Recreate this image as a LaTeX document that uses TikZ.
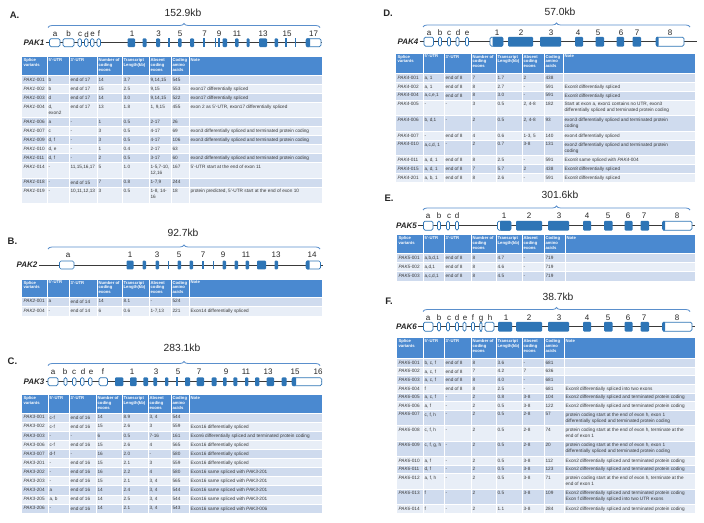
\documentclass[tikz,border=0pt]{standalone}
\usepackage{fontspec}
\setmainfont{Liberation Sans}
\usetikzlibrary{decorations.pathreplacing}
\definecolor{hdr}{HTML}{4A89D0}
\definecolor{rowD}{HTML}{CFDBEE}
\definecolor{rowL}{HTML}{E8EEF7}
\definecolor{exb}{HTML}{2E75B6}
\definecolor{brc}{HTML}{5A8FCC}
\definecolor{txt}{HTML}{3A3A3A}
\definecolor{intr}{HTML}{3A3A3A}

\newcount\cellno
\newcommand\cellnode[3]{\if\relax\detokenize{#3}\relax\else\global\advance\cellno by 1 \node[cell] (cell\the\cellno) at (#1+1.4,#2+2.4) {\vphantom{Ag}#3};\fi}
\newcommand\hcell[3]{\global\advance\cellno by 1 \node[hcell] (cell\the\cellno) at (#1+1.4,#2+1.4) {\vphantom{Ag}#3};}
\newcommand\setcols[9]{\def\cA{#1}\def\cB{#2}\def\cC{#3}\def\cD{#4}\def\cE{#5}\def\cF{#6}\def\cG{#7}\def\cH{#8}\def\cI{#9}}
\newcommand\tgrid[2]{\foreach \xx in {\cB,\cC,\cD,\cE,\cF,\cG,\cH}{\draw[tsep] (\xx,#1) -- (\xx,#2);}}
\newcommand\thead[2]{\fill[hdr] (\cA,#1) rectangle (\cI,#2); \tgrid{#1}{#2}
 \hcell{\cA}{#1}{Splice\\variants}\hcell{\cB}{#1}{5'-UTR}\hcell{\cC}{#1}{3'-UTR}
 \hcell{\cD}{#1}{Number of\\coding\\exons}\hcell{\cE}{#1}{Transcript\\Length(kb)}
 \hcell{\cF}{#1}{Absent\\coding\\exons}\hcell{\cG}{#1}{Coding\\amino\\acids}\hcell{\cH}{#1}{Note}}
\newcommand\trow[3]{\fill[#3] (\cA,#1) rectangle (\cI,#2); \draw[tsep] (\cA,#1) -- (\cI,#1); \tgrid{#1}{#2}\def\rt{#1}}
\newcommand\tc[8]{\cellnode{\cA}{\rt}{#1}\cellnode{\cB}{\rt}{#2}\cellnode{\cC}{\rt}{#3}\cellnode{\cD}{\rt}{#4}\cellnode{\cE}{\rt}{#5}\cellnode{\cF}{\rt}{#6}\cellnode{\cG}{\rt}{#7}\cellnode{\cH}{\rt}{#8}}
\newcommand\pv[2]{\textit{PAK#1}-#2}
\def\hh{4.3}
\newcommand\fx[3]{\fill[exb, rounded corners=1pt] (#1,#3-\hh) rectangle (#2,#3+\hh);}
\newcommand\ox[3]{\draw[exb, fill=white, line width=0.7pt, rounded corners=1.5pt] (#1,#3-\hh+0.3) rectangle (#2,#3+\hh-0.3);}
\newcommand\tx[2]{\fill[exb] (#1-0.75,#2-\hh) rectangle (#1+0.75,#2+\hh);}
\newcommand\lx[4]{\ox{#1}{#3}{#4}\fill[exb, rounded corners=0.8pt] (#1,#4-\hh) rectangle (#2,#4+\hh);}
\newcommand\ux[3]{\ox{#1}{#2}{#3}\fill[exb, rounded corners=1pt] (#1+2.5,#3-\hh) rectangle (#2,#3+\hh);}
\newcommand\el[3]{\global\advance\cellno by 1 \node[exlab] (cell\the\cellno) at (#1,#2) {#3};}

\begin{document}
\begin{tikzpicture}[x=1pt,y=-1pt,
 cell/.style={anchor=north west, inner sep=0pt, align=left, font=\fontsize{4.7}{5.9}\selectfont, text=txt},
 hcell/.style={anchor=north west, inner sep=0pt, align=left, font=\fontsize{4.2}{4.7}\selectfont\bfseries, text=white},
 tsep/.style={white, line width=0.7pt},
 exlab/.style={anchor=base, inner sep=0pt, font=\fontsize{8}{9}\selectfont, text=black!85},
 gname/.style={anchor=east, inner sep=0pt, font=\fontsize{8}{9}\selectfont\bfseries\itshape, text=black!85},
 plab/.style={inner sep=0pt, font=\fontsize{9.5}{10}\selectfont\bfseries, text=black!85},
 kb/.style={inner sep=0pt, font=\fontsize{10.3}{11}\selectfont, text=black!85},
 intron/.style={draw=intr, line width=0.7pt},
 gbrace/.style={draw=brc, line width=0.8pt, decorate, decoration={brace, amplitude=4pt}}]
\useasboundingbox (0,0) rectangle (704,522);
\fill[white] (0,0) rectangle (704,522);

% ================= A: PAK1 =================
\node[plab] (pA) at (14.5,15) {A.};
\node[kb] (kA) at (183,13) {152.9kb};
\coordinate (bAl) at (48,27.5); \coordinate (bAr) at (320,27.5);
\draw[gbrace] (bAl) -- (bAr);
\node[gname] (gA) at (44.5,42.7) {PAK1};
\coordinate (iAl) at (45.5,42.7); \coordinate (iAr) at (322,42.7);
\draw[intron] (iAl) -- (iAr);
\ox{49.5}{60}{42.7}\ox{63}{74}{42.7}\ox{78}{81.5}{42.7}\ox{84.5}{88}{42.7}\ox{90.5}{94}{42.7}\ox{97}{100.5}{42.7}
\fx{127.5}{135}{42.7}\fx{142.5}{146.5}{42.7}\fx{156}{160}{42.7}\tx{169}{42.7}\fx{178}{181.5}{42.7}\fx{190}{194}{42.7}
\tx{204}{42.7}\tx{215.5}{42.7}\tx{219}{42.7}\fx{222.5}{227}{42.7}\fx{235}{238.5}{42.7}\fx{246.5}{249.5}{42.7}
\fx{259}{267}{42.7}\fx{274.5}{278}{42.7}\tx{286}{42.7}\tx{295.5}{42.7}\lx{306}{310}{321}{42.7}
\el{55}{36.6}{a}\el{68.5}{36.6}{b}\el{80}{36.6}{c}\el{86.5}{37.4}{d}\el{92.5}{36.6}{e}\el{99}{36.6}{f}
\el{132}{36.6}{1}\el{158.5}{36.6}{3}\el{180}{36.6}{5}\el{204.5}{36.6}{7}\el{219}{36.6}{9}\el{237}{36.6}{11}
\el{263}{36.6}{13}\el{287}{36.6}{15}\el{313.5}{36.6}{17}
\setcols{22}{47}{69}{97}{122}{149}{171}{189}{322}
\thead{57}{75.5}
\trow{75.5}{84.5}{rowD}\tc{\pv{1}{001}}{b}{end of 17}{14}{3.7}{9,14,15}{545}{}
\trow{84.5}{93.3}{rowL}\tc{\pv{1}{002}}{b}{end of 17}{15}{2.5}{9,15}{553}{exon17 differentially spliced}
\trow{93.3}{102.2}{rowD}\tc{\pv{1}{003}}{d}{end of 17}{14}{3.0}{9,14,15}{522}{exon17 differentially spliced}
\trow{102.2}{117.8}{rowL}\tc{\pv{1}{004}}{d,\\exon2}{end of 17}{13}{1.8}{1, 9,15}{455}{exon 2 as 5'-UTR, exon17 differentially spliced}
\trow{117.8}{126.7}{rowD}\tc{\pv{1}{006}}{a}{-}{1}{0.5}{2-17}{26}{}
\trow{126.7}{135.6}{rowL}\tc{\pv{1}{007}}{c}{-}{3}{0.5}{4-17}{69}{exon3 differentially spliced and terminated protein coding}
\trow{135.6}{144.5}{rowD}\tc{\pv{1}{009}}{d, f}{-}{3}{0.5}{4-17}{106}{exon3 differentially spliced and terminated protein coding}
\trow{144.5}{153.4}{rowL}\tc{\pv{1}{010}}{d, e}{-}{1}{0.4}{2-17}{63}{}
\trow{153.4}{162.3}{rowD}\tc{\pv{1}{011}}{d, f}{-}{2}{0.5}{3-17}{60}{exon2 differentially spliced and terminated protein coding}
\trow{162.3}{178}{rowL}\tc{\pv{1}{014}}{-}{11,15,16,17}{5}{1.0}{1-5,7-10,\\12,16}{167}{5'-UTR start at the end of exon 11}
\trow{178}{186.9}{rowD}\tc{\pv{1}{018}}{-}{end of 15}{7}{0.8}{1-7,9}{244}{}
\trow{186.9}{202.5}{rowL}\tc{\pv{1}{019}}{-}{10,11,12,13}{3}{0.5}{1-8, 14-\\16}{18}{protein predicted, 5'-UTR start at the end of exon 10}

% ================= B: PAK2 =================
\node[plab] (pB) at (12.5,241.7) {B.};
\node[kb] (kB) at (183,233) {92.7kb};
\coordinate (bBl) at (48,249); \coordinate (bBr) at (320,249);
\draw[gbrace] (bBl) -- (bBr);
\node[gname] (gB) at (37.5,265) {PAK2};
\coordinate (iBl) at (39,265); \coordinate (iBr) at (323,265);
\draw[intron] (iBl) -- (iBr);
\ox{59.5}{74}{265}
\fx{126.5}{133.5}{265}\fx{142.5}{146}{265}\fx{155.5}{159}{265}\tx{168.5}{265}\fx{177.5}{181}{265}\fx{189.5}{193}{265}
\tx{203}{265}\tx{213.5}{265}\fx{222.5}{226}{265}\fx{234.5}{238}{265}\fx{245.5}{249}{265}\fx{257}{266}{265}
\fx{274.5}{278}{265}\lx{306}{309.5}{320.5}{265}
\el{68}{257.4}{a}\el{130}{257.4}{1}\el{157}{257.4}{3}\el{179}{257.4}{5}\el{203}{257.4}{7}\el{223}{257.4}{9}
\el{246}{257.4}{11}\el{276}{257.4}{13}\el{312}{257.4}{14}
\thead{279.5}{297}
\trow{297}{306.3}{rowD}\tc{\pv{2}{001}}{a}{end of 14}{14}{8.1}{-}{524}{}
\trow{306.3}{315.5}{rowL}\tc{\pv{2}{004}}{-}{end of 14}{6}{0.6}{1-7,13}{221}{Exon14 differentially spliced}

% ================= C: PAK3 =================
\node[plab] (pC) at (12.5,361.5) {C.};
\node[kb] (kC) at (182,348) {283.1kb};
\coordinate (bCl) at (48,365.5); \coordinate (bCr) at (320,365.5);
\draw[gbrace] (bCl) -- (bCr);
\node[gname] (gC) at (44.5,381.7) {PAK3};
\coordinate (iCl) at (45.5,381.7); \coordinate (iCr) at (322,381.7);
\draw[intron] (iCl) -- (iCr);
\ox{48}{58}{381.7}\ox{64}{67}{381.7}\ox{72.5}{76}{381.7}\ox{80.5}{84}{381.7}\ox{88.5}{92}{381.7}\ox{99}{107.5}{381.7}
\fx{115}{123.3}{381.7}\fx{130}{136.7}{381.7}\fx{143.3}{148}{381.7}\fx{153.3}{157}{381.7}\fx{165}{168.3}{381.7}
\tx{177}{381.7}\fx{185}{190}{381.7}\fx{196.7}{204}{381.7}\fx{211.7}{216.5}{381.7}\fx{223}{226.7}{381.7}
\fx{233.3}{237.3}{381.7}\fx{245}{248.3}{381.7}\fx{255}{259.3}{381.7}\fx{266.7}{274}{381.7}\fx{281.7}{286.5}{381.7}
\lx{292}{296}{321.7}{381.7}
\el{53}{374.6}{a}\el{65}{374.6}{b}\el{74}{374.6}{c}\el{83}{374.6}{d}\el{91}{374.6}{e}\el{103}{374.6}{f}
\el{132}{374.6}{1}\el{156}{374.6}{3}\el{178}{374.6}{5}\el{199}{374.6}{7}\el{226}{374.6}{9}\el{246}{374.6}{11}
\el{268}{374.6}{13}\el{295}{374.6}{15}\el{318}{374.6}{16}
\setcols{22}{48}{69}{96}{122}{148}{171}{189}{322}
\thead{395}{413}
\trow{413}{422.1}{rowD}\tc{\pv{3}{001}}{c-f}{end of 16}{14}{8.9}{3, 4}{544}{}
\trow{422.1}{431.2}{rowL}\tc{\pv{3}{002}}{c-f}{end of 16}{15}{2.6}{3}{559}{Exon16 differentially spliced}
\trow{431.2}{440.3}{rowD}\tc{\pv{3}{003}}{-}{-}{6}{0.5}{7-16}{161}{Exon6 differentially spliced and terminated protein coding}
\trow{440.3}{449.4}{rowL}\tc{\pv{3}{006}}{c-f}{end of 16}{15}{2.6}{4}{565}{Exon16 differentially spliced}
\trow{449.4}{458.5}{rowD}\tc{\pv{3}{007}}{d-f}{-}{16}{2.0}{-}{580}{Exon16 differentially spliced}
\trow{458.5}{467.6}{rowL}\tc{\pv{3}{201}}{-}{end of 16}{15}{2.1}{3}{559}{Exon16 differentially spliced}
\trow{467.6}{476.7}{rowD}\tc{\pv{3}{202}}{-}{end of 16}{16}{2.2}{4}{580}{Exon16 same spliced with \textit{PAK3}-201}
\trow{476.7}{485.8}{rowL}\tc{\pv{3}{203}}{-}{end of 16}{15}{2.1}{3, 4}{565}{Exon16 same spliced with \textit{PAK3}-201}
\trow{485.8}{494.9}{rowD}\tc{\pv{3}{204}}{a}{end of 16}{14}{2.4}{3, 4}{544}{Exon16 same spliced with \textit{PAK3}-201}
\trow{494.9}{504}{rowL}\tc{\pv{3}{205}}{a, b}{end of 16}{14}{2.5}{3, 4}{544}{Exon16 same spliced with \textit{PAK3}-201}
\trow{504}{513.1}{rowD}\tc{\pv{3}{206}}{-}{end of 16}{14}{2.1}{3, 4}{543}{Exon16 same spliced with \textit{PAK3}-006}

% ================= D: PAK4 =================
\def\hh{4.8}
\node[plab] (pD) at (388,13.7) {D.};
\node[kb] (kD) at (560,12) {57.0kb};
\coordinate (bDl) at (423,27); \coordinate (bDr) at (690,27);
\draw[gbrace] (bDl) -- (bDr);
\node[gname] (gD) at (418.5,41.7) {PAK4};
\coordinate (iDl) at (419.5,41.7); \coordinate (iDr) at (697,41.7);
\draw[intron] (iDl) -- (iDr);
\ox{424}{433.5}{41.7}\ox{438.5}{441.5}{41.7}\ox{447.5}{450.5}{41.7}\ox{456}{459}{41.7}\ox{465.5}{468.5}{41.7}
\ux{490}{503}{41.7}\fx{508}{533}{41.7}\fx{540}{561}{41.7}\fx{575}{583}{41.7}\fx{595.5}{604}{41.7}
\fx{616.5}{624}{41.7}\fx{632.5}{641}{41.7}\lx{656}{658.5}{684}{41.7}
\el{429}{35.6}{a}\el{440}{35.6}{b}\el{449}{35.6}{c}\el{458}{35.6}{d}\el{467}{35.6}{e}
\el{497}{35.6}{1}\el{521}{35.6}{2}\el{551}{35.6}{3}\el{578}{35.6}{4}\el{598}{35.6}{5}\el{621}{35.6}{6}\el{637}{35.6}{7}\el{670}{35.6}{8}
\setcols{396}{423}{444}{471}{496}{522}{544}{563}{695}
\thead{53.5}{73.5}
\trow{73.5}{82.3}{rowD}\tc{\pv{4}{001}}{a, 1}{end of 8}{7}{1.7}{2}{438}{}
\trow{82.3}{91.1}{rowL}\tc{\pv{4}{002}}{a, 1}{end of 8}{8}{2.7}{-}{591}{Exon8 differentially spliced}
\trow{91.1}{99.9}{rowD}\tc{\pv{4}{004}}{a,c,e,1}{end of 8}{8}{3.0}{-}{591}{Exon8 differentially spliced}
\trow{99.9}{115.6}{rowL}\tc{\pv{4}{005}}{-}{-}{3}{0.5}{2, 4-8}{182}{Start at exon a, exon1 contains no UTR, exon3\\differentially spliced and terminated protein coding}
\trow{115.6}{131.3}{rowD}\tc{\pv{4}{006}}{b, d,1}{-}{2}{0.5}{2, 4-8}{93}{exon3 differentially spliced and terminated protein\\coding}
\trow{131.3}{140.1}{rowL}\tc{\pv{4}{007}}{-}{end of 8}{4}{0.6}{1-3, 5}{140}{exon4 differentially spliced}
\trow{140.1}{155.8}{rowD}\tc{\pv{4}{010}}{a,c,d, 1}{-}{2}{0.7}{3-8}{131}{exon2 differentially spliced and terminated protein\\coding}
\trow{155.8}{164.6}{rowL}\tc{\pv{4}{011}}{a, d, 1}{end of 8}{8}{2.5}{-}{591}{Exon8 same spliced with \textit{PAK4}-004}
\trow{164.6}{173.4}{rowD}\tc{\pv{4}{015}}{a, d, 1}{end of 8}{7}{5.7}{2}{438}{Exon8 differentially spliced}
\trow{173.4}{182.2}{rowL}\tc{\pv{4}{201}}{a, b, 1}{end of 8}{8}{2.6}{-}{591}{Exon8 differentially spliced}

% ================= E: PAK5 =================
\node[plab] (pE) at (389,198.7) {E.};
\node[kb] (kE) at (560,195) {301.6kb};
\coordinate (bEl) at (423,210); \coordinate (bEr) at (690,210);
\draw[gbrace] (bEl) -- (bEr);
\node[gname] (gE) at (417,225.7) {PAK5};
\coordinate (iEl) at (418,225.7); \coordinate (iEr) at (695,225.7);
\draw[intron] (iEl) -- (iEr);
\ox{423.5}{433}{225.7}\ox{437.5}{440.5}{225.7}\ox{446.5}{449.5}{225.7}\ox{455.5}{458.5}{225.7}
\ux{497.5}{511}{225.7}\fx{516}{542}{225.7}\fx{548}{569}{225.7}\fx{583}{591}{225.7}\fx{604}{612.5}{225.7}
\fx{624.5}{632.5}{225.7}\fx{640.5}{649}{225.7}\lx{662.5}{665}{692}{225.7}
\el{428}{218.6}{a}\el{439}{218.6}{b}\el{449}{218.6}{c}\el{457}{218.6}{d}
\el{504}{218.6}{1}\el{529}{218.6}{2}\el{559}{218.6}{3}\el{587}{218.6}{4}\el{608}{218.6}{5}\el{628}{218.6}{6}\el{644}{218.6}{7}\el{677}{218.6}{8}
\setcols{397}{423}{444}{471}{496}{522}{544}{565}{695}
\thead{235}{253.5}
\trow{253.5}{262.5}{rowD}\tc{\pv{5}{001}}{a,b,d,1}{end of 8}{8}{4.7}{-}{719}{}
\trow{262.5}{271.5}{rowL}\tc{\pv{5}{002}}{a,d,1}{end of 8}{8}{4.6}{-}{719}{}
\trow{271.5}{280.5}{rowD}\tc{\pv{5}{003}}{a,c,d,1}{end of 8}{8}{4.5}{-}{719}{}

% ================= F: PAK6 =================
\node[plab] (pF) at (389,301.3) {F.};
\node[kb] (kF) at (558,297) {38.7kb};
\coordinate (bFl) at (423,311.5); \coordinate (bFr) at (690,311.5);
\draw[gbrace] (bFl) -- (bFr);
\node[gname] (gF) at (417,326.7) {PAK6};
\coordinate (iFl) at (418,326.7); \coordinate (iFr) at (695,326.7);
\draw[intron] (iFl) -- (iFr);
\ox{423.5}{433}{326.7}\ox{437.5}{440.5}{326.7}\ox{446.5}{449.5}{326.7}\ox{455.5}{458.5}{326.7}\ox{463}{466}{326.7}
\ox{471.5}{474.5}{326.7}\ox{479.8}{482}{326.7}\ox{485}{494}{326.7}
\fx{498}{512}{326.7}\fx{516}{542}{326.7}\fx{548}{569}{326.7}\fx{583}{591}{326.7}\fx{604}{612.5}{326.7}
\fx{624.5}{632.5}{326.7}\fx{640.5}{649}{326.7}\lx{662.5}{665}{692}{326.7}
\el{428}{320.9}{a}\el{439}{320.9}{b}\el{449}{320.9}{c}\el{457}{320.9}{d}\el{465}{320.9}{e}\el{473}{320.9}{f}\el{481}{320.9}{g}\el{490}{320.9}{h}
\el{506}{320.9}{1}\el{529}{320.9}{2}\el{559}{320.9}{3}\el{587}{320.9}{4}\el{608}{320.9}{5}\el{628}{320.9}{6}\el{644}{320.9}{7}\el{677}{320.9}{8}
\setcols{397}{423}{444}{471}{496}{522}{544}{564}{695}
\thead{338}{358.5}
\trow{358.5}{367.1}{rowD}\tc{\pv{6}{001}}{b, c, f}{end of 8}{8}{3.6}{-}{681}{}
\trow{367.1}{375.7}{rowL}\tc{\pv{6}{002}}{a, c, f}{end of 8}{7}{4.2}{7}{636}{}
\trow{375.7}{384.3}{rowD}\tc{\pv{6}{003}}{a, c, f}{end of 8}{8}{4.0}{-}{681}{}
\trow{384.3}{392.9}{rowL}\tc{\pv{6}{004}}{f}{end of 8}{8}{2.5}{-}{681}{Exon8 differentially spliced into two exons}
\trow{392.9}{401.5}{rowD}\tc{\pv{6}{005}}{a, c, f}{-}{2}{0.8}{3-8}{104}{Exon2 differentially spliced and terminated protein coding}
\trow{401.5}{410.1}{rowL}\tc{\pv{6}{006}}{a, f}{-}{2}{0.5}{3-8}{122}{Exon2 differentially spliced and terminated protein coding}
\trow{410.1}{425.5}{rowD}\tc{\pv{6}{007}}{c, f, h}{-}{2}{0.5}{2-8}{57}{protein coding start at the end of exon h, exon 1\\differentially spliced and terminated protein coding}
\trow{425.5}{440.9}{rowL}\tc{\pv{6}{008}}{c, f, h}{-}{2}{0.5}{2-8}{74}{protein coding start at the end of exon h, terminate at the\\end of exon 1}
\trow{440.9}{456.3}{rowD}\tc{\pv{6}{009}}{c, f, g, h}{-}{2}{0.5}{2-8}{20}{protein coding start at the end of exon h, exon 1\\differentially spliced and terminated protein coding}
\trow{456.3}{464.9}{rowL}\tc{\pv{6}{010}}{a, f}{-}{2}{0.5}{3-8}{112}{Exon2 differentially spliced and terminated protein coding}
\trow{464.9}{473.5}{rowD}\tc{\pv{6}{011}}{d, f}{-}{2}{0.5}{3-8}{123}{Exon2 differentially spliced and terminated protein coding}
\trow{473.5}{488.9}{rowL}\tc{\pv{6}{012}}{a, f, h}{-}{2}{0.5}{3-8}{71}{protein coding start at the end of exon h, terminate at the\\end of exon 1}
\trow{488.9}{504.3}{rowD}\tc{\pv{6}{013}}{f}{-}{2}{0.5}{3-8}{109}{Exon2 differentially spliced and terminated protein coding\\Exon f differentially spliced into two UTR exons}
\trow{504.3}{512.9}{rowL}\tc{\pv{6}{014}}{f}{-}{2}{1.1}{3-8}{284}{Exon2 differentially spliced and terminated protein coding}
\end{tikzpicture}
\end{document}
